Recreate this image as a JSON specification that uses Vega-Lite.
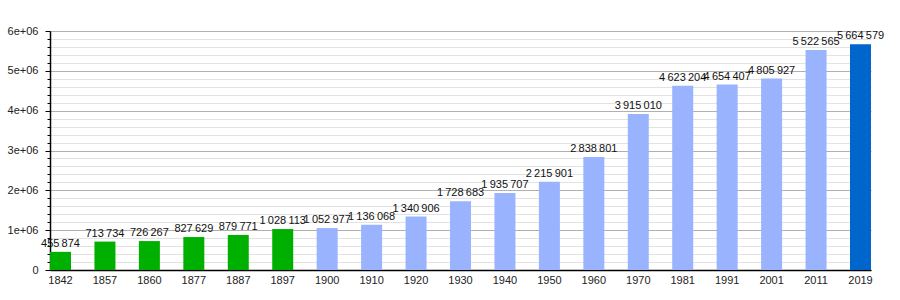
{
  "$schema": "https://vega.github.io/schema/vega-lite/v6.json",
  "width": 821,
  "height": 239,
  "autosize": {"type": "none"},
  "padding": {"left": 50, "top": 31, "right": 29, "bottom": 30},
  "background": "white",
  "config": {
    "view": {"stroke": null},
    "font": "Liberation Sans",
    "locale": {"number": {"decimal": ",", "thousands": "\u2009", "grouping": [3], "currency": ["", ""]}}
  },
  "data": {
    "values": [
      {"year": "1842", "pop": 455874, "group": "a"},
      {"year": "1857", "pop": 713734, "group": "a"},
      {"year": "1860", "pop": 726267, "group": "a"},
      {"year": "1877", "pop": 827629, "group": "a"},
      {"year": "1887", "pop": 879771, "group": "a"},
      {"year": "1897", "pop": 1028113, "group": "a"},
      {"year": "1900", "pop": 1052977, "group": "b"},
      {"year": "1910", "pop": 1136068, "group": "b"},
      {"year": "1920", "pop": 1340906, "group": "b"},
      {"year": "1930", "pop": 1728683, "group": "b"},
      {"year": "1940", "pop": 1935707, "group": "b"},
      {"year": "1950", "pop": 2215901, "group": "b"},
      {"year": "1960", "pop": 2838801, "group": "b"},
      {"year": "1970", "pop": 3915010, "group": "b"},
      {"year": "1981", "pop": 4623204, "group": "b"},
      {"year": "1991", "pop": 4654407, "group": "b"},
      {"year": "2001", "pop": 4805927, "group": "b"},
      {"year": "2011", "pop": 5522565, "group": "b"},
      {"year": "2019", "pop": 5664579, "group": "c"}
    ]
  },
  "encoding": {
    "x": {
      "field": "year", "type": "nominal", "sort": null,
      "scale": {"paddingInner": 0.5275, "paddingOuter": 0},
      "axis": {
        "title": null, "labelAngle": 0, "ticks": false, "domainColor": "#000", "domainWidth": 1.5,
        "labelFontSize": 11, "labelColor": "#222", "labelPadding": 4, "grid": false
      }
    },
    "y": {
      "field": "pop", "type": "quantitative",
      "scale": {"domain": [0, 6000000], "nice": false},
      "axis": {
        "title": null,
        "values": [0, 200000, 400000, 600000, 800000, 1000000, 1200000, 1400000, 1600000, 1800000, 2000000, 2200000, 2400000, 2600000, 2800000, 3000000, 3200000, 3400000, 3600000, 3800000, 4000000, 4200000, 4400000, 4600000, 4800000, 5000000, 5200000, 5400000, 5600000, 5800000, 6000000],
        "labelExpr": "datum.value === 0 ? '0' : (datum.value % 1000000 === 0 ? (datum.value / 1000000) + 'e+06' : '')",
        "labelOverlap": false,
        "labelFontSize": 11,
        "labelColor": "#222",
        "labelPadding": 7,
        "domainColor": "#000",
        "domainWidth": 1.5,
        "tickColor": "#000",
        "tickSize": {"condition": {"test": "datum.value % 1000000 === 0", "value": 5}, "value": 3},
        "grid": true,
        "gridColor": {"condition": {"test": "datum.value % 1000000 === 0", "value": "#b0b0b0"}, "value": "#e2e2e2"},
        "gridWidth": 1
      }
    }
  },
  "layer": [
    {
      "mark": {"type": "bar"},
      "encoding": {
        "color": {
          "field": "group", "type": "nominal", "legend": null,
          "scale": {"domain": ["a", "b", "c"], "range": ["#00b000", "#99b3ff", "#0066cc"]}
        }
      }
    },
    {
      "mark": {"type": "text", "baseline": "alphabetic", "dy": -5, "fontSize": 11, "color": "#111"},
      "encoding": {
        "text": {"field": "pop", "type": "quantitative", "format": ",d"}
      }
    }
  ]
}
